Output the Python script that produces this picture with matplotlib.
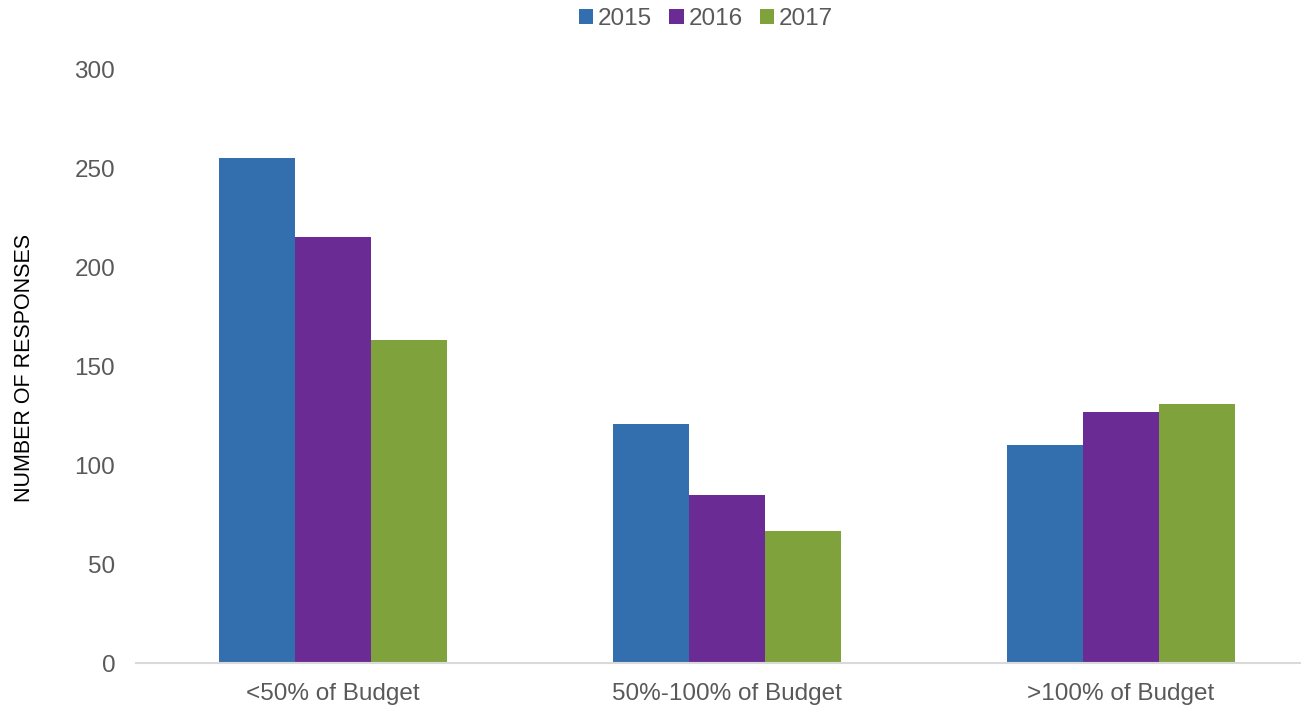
import numpy as np
import matplotlib.pyplot as plt

plt.rcParams['font.family'] = ['Liberation Sans', 'DejaVu Sans']

categories = ['<50% of Budget', '50%-100% of Budget', '>100% of Budget']
years = ['2015', '2016', '2017']
resp_2015 = [255, 121, 110]
resp_2016 = [215, 85, 127]
resp_2017 = [163, 67, 131]
colors = ['#336EAF', '#6A2C94', '#7FA23D']

W, H = 1301, 706
fig = plt.figure(figsize=(W / 100, H / 100), dpi=100)
# plot area in pixels: x 136..1301, y 69..663
ax = fig.add_axes([136 / W, (H - 663.3) / H, (W - 136) / W, (663.3 - 69) / H])

x = np.arange(len(categories))
bw = 0.193
for i, (vals, yr) in enumerate(zip([resp_2015, resp_2016, resp_2017], years)):
    ax.bar(x + (i - 1) * bw, vals, bw, color=colors[i], label=yr)

ax.set_xlim(-0.5, 2.457)
ax.set_ylim(0, 300)
ax.set_yticks(range(0, 301, 50))
ax.set_xticks(x)
ax.set_xticklabels(categories)

for s in ['top', 'right', 'left']:
    ax.spines[s].set_visible(False)
ax.spines['bottom'].set_color('#d9d9d9')
ax.spines['bottom'].set_linewidth(1.5)
ax.tick_params(axis='both', length=0, labelsize=17.5, colors='#595959')
ax.tick_params(axis='y', pad=15)
ax.tick_params(axis='x', pad=14)

fig.text(25 / W, 1 - 368 / H, 'NUMBER OF RESPONSES', rotation=90,
         ha='center', va='center', fontsize=15.5, color='#000000')

leg = fig.legend(loc='center', bbox_to_anchor=(706 / W, 1 - 19 / H), ncol=3,
                 frameon=False, fontsize=17.5, handlelength=0.6, handleheight=0.6,
                 handletextpad=0.2, columnspacing=0.7, labelcolor='#595959')

fig.savefig('out.png', dpi=100)
